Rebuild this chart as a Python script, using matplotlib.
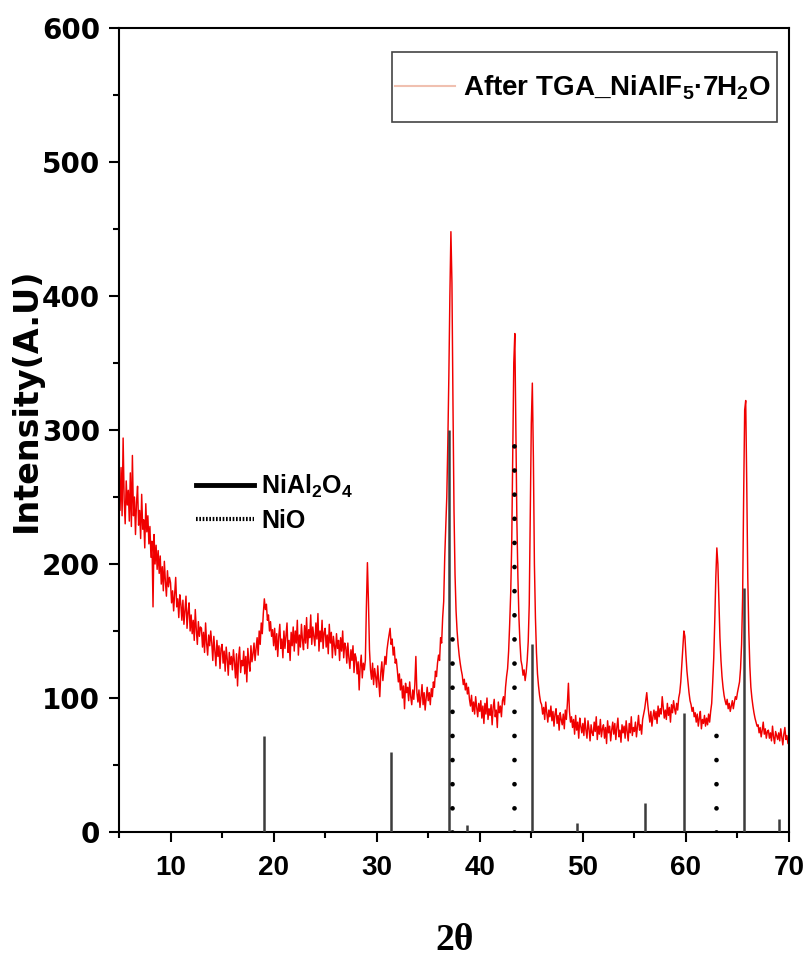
"""
XRD pattern after TGA of NiAlF5*7H2O with NiAl2O4 / NiO reference sticks.
Writes out.png (806x964).
"""
import numpy as np
import matplotlib
matplotlib.use("Agg")
import matplotlib.pyplot as plt
from matplotlib.lines import Line2D
from matplotlib.patches import Rectangle
from matplotlib.ticker import MultipleLocator

plt.rcParams["mathtext.default"] = "regular"

SANS = ["Liberation Sans", "DejaVu Sans"]
WIDE = ["DejaVu Sans"]

# ---------- data ----------
# scan grid: 5-70 deg, 0.1 deg step
two_theta = np.round(np.arange(5.0, 70.05, 0.1), 1)

# one row per degree (x.0 ... x.9)
intensity = [
    258, 240, 272, 236, 294, 248, 230, 262, 244, 255,   # 5
    232, 268, 228, 281, 236, 250, 222, 246, 258, 229,   # 6
    240, 219, 252, 226, 233, 212, 245, 224, 236, 215,   # 7
    228, 205, 217, 168, 222, 200, 214, 196, 210, 193,   # 8
    206, 185, 198, 180, 202, 187, 176, 195, 183, 190,   # 9
    186, 171, 180, 165, 178, 190, 168, 174, 160, 177,   # 10
    170, 158, 173, 155, 166, 176, 152, 164, 171, 150,   # 11
    162, 148, 158, 143, 166, 151, 140, 157, 146, 153,   # 12
    152, 138, 149, 134, 156, 141, 132, 147, 139, 150,   # 13
    141, 128, 146, 135, 124, 143, 131, 139, 122, 137,   # 14
    140, 126, 135, 120, 138, 129, 117, 134, 125, 131,   # 15
    121, 136, 127, 115, 133, 109, 130, 138, 119, 128,   # 16
    124, 135, 118, 131, 112, 137, 126, 120, 139, 127,   # 17
    133, 141, 128, 137, 145, 132, 150, 140, 156, 148,   # 18
    163, 174, 166, 170, 158, 162, 150, 157, 146, 151,   # 19
    139, 152, 136, 148, 131, 146, 155, 137, 144, 130,   # 20
    150, 137, 147, 156, 134, 143, 128, 149, 139, 153,   # 21
    135, 150, 141, 158, 132, 147, 138, 155, 143, 136,   # 22
    154, 141, 160, 137, 151, 145, 162, 140, 153, 146,   # 23
    139, 156, 144, 163, 135, 150, 142, 158, 137, 149,   # 24
    152, 138, 147, 133, 155, 141, 149, 130, 146, 139,   # 25
    132, 148, 137, 143, 128, 145, 135, 150, 130, 141,   # 26
    138, 126, 141, 130, 122, 136, 128, 139, 119, 133,   # 27
    130, 118, 127, 106, 124, 132, 115, 126, 121, 128,   # 28
    168, 201, 172, 136, 121, 114, 126, 110, 122, 116,   # 29
    108, 124, 112, 101, 119, 127, 113, 122, 131, 125,   # 30
    136, 142, 147, 152, 140, 144, 132, 138, 126, 129,   # 31
    121, 112, 118, 106, 114, 100, 109, 92, 111, 104,    # 32
    108, 98, 112, 101, 95, 106, 99, 110, 131, 104,      # 33
    97, 106, 93, 101, 110, 95, 104, 91, 100, 108,       # 34
    98, 104, 95, 107, 101, 112, 108, 120, 116, 126,     # 35
    132, 128, 145, 141, 160, 172, 205, 228, 250, 290,   # 36
    340, 400, 448, 410, 320, 240, 192, 165, 150, 140,   # 37
    132, 126, 121, 117, 110, 114, 106, 111, 103, 108,   # 38
    99, 94, 102, 90, 97, 88, 101, 93, 86, 96,           # 39
    90, 98, 85, 94, 81, 96, 88, 100, 84, 92,            # 40
    87, 95, 80, 93, 99, 86, 91, 78, 97, 89,             # 41
    94, 86, 98, 101, 95, 108, 116, 122, 135, 155,       # 42
    178, 215, 285, 350, 372, 300, 232, 190, 160, 141,   # 43
    128, 124, 117, 121, 113, 119, 128, 142, 170, 240,   # 44
    305, 335, 280, 200, 160, 134, 118, 109, 102, 97,    # 45
    95, 88, 93, 84, 97, 89, 82, 91, 86, 94,             # 46
    83, 90, 79, 88, 92, 81, 87, 76, 89, 84,             # 47
    80, 88, 77, 91, 84, 96, 111, 90, 82, 86,            # 48
    78, 84, 73, 87, 76, 82, 70, 85, 79, 74,             # 49
    81, 72, 85, 76, 70, 83, 77, 68, 80, 74,             # 50
    72, 82, 75, 86, 69, 79, 73, 84, 71, 77,             # 51
    80, 70, 78, 66, 83, 74, 79, 68, 76, 82,             # 52
    73, 81, 69, 78, 85, 71, 76, 67, 80, 74,             # 53
    79, 70, 83, 75, 68, 81, 74, 86, 72, 78,             # 54
    75, 82, 71, 79, 87, 76, 80, 73, 84, 88,             # 55
    92, 98, 104, 95, 88, 82, 90, 79, 86, 91,            # 56
    84, 90, 81, 94, 86, 92, 88, 101, 93, 85,            # 57
    91, 84, 96, 87, 93, 82, 95, 89, 98, 92,             # 58
    88, 96, 91, 100, 104, 112, 125, 138, 150, 146,      # 59
    132, 120, 112, 104, 98, 95, 90, 93, 86, 89,         # 60
    82, 88, 79, 85, 90, 77, 84, 81, 87, 79,             # 61
    85, 80, 88, 82, 90, 96, 112, 130, 158, 190,         # 62
    212, 200, 172, 145, 128, 116, 108, 102, 98, 95,     # 63
    99, 92, 96, 90, 94, 98, 92, 97, 101, 99,            # 64
    104, 108, 112, 122, 140, 175, 250, 315, 322, 260,   # 65
    190, 150, 124, 108, 100, 94, 89, 85, 82, 79,        # 66
    80, 74, 78, 71, 76, 82, 73, 77, 70, 75,             # 67
    76, 70, 74, 68, 79, 71, 66, 75, 72, 69,             # 68
    74, 68, 77, 71, 65, 73, 78, 69, 72, 66,             # 69
    70,                                                 # 70
]
assert len(intensity) == len(two_theta)

# reference sticks
nial2o4_pos = [19.05, 31.35, 37.05, 38.8, 45.05, 49.4, 56.0, 59.8, 65.65, 69.05]
nial2o4_int = [72, 60, 300, 5, 140, 7, 22, 89, 182, 10]
nio_pos = [37.3, 43.35, 62.95]
nio_int = [160, 300, 85]

SAMPLE_LABEL = "After TGA_NiAlF$_5$·7H$_2$O"

# ---------- figure ----------
W, H = 806, 964
fig = plt.figure(figsize=(W / 100, H / 100), dpi=100)
ax = fig.add_axes([119 / W, 1 - 832 / H, 670 / W, 804 / H])

ax.plot(two_theta, intensity, color="#f00000", lw=1.05, zorder=2)
ax.vlines(nial2o4_pos, 0, nial2o4_int, colors="#3c3c3c", lw=1.8, zorder=3)
for p, h in zip(nio_pos, nio_int):
    ax.plot([p, p], [0, h], color="black", lw=3.4, ls=(0, (0.01, 5.1)),
            dash_capstyle="round", zorder=4)

ax.set_xlim(5, 70)
ax.set_ylim(0, 600)
ax.xaxis.set_major_locator(MultipleLocator(10))
ax.xaxis.set_minor_locator(MultipleLocator(5))
ax.yaxis.set_major_locator(MultipleLocator(100))
ax.yaxis.set_minor_locator(MultipleLocator(50))
ax.tick_params(which="both", direction="out", top=False, right=False, width=1.5)
ax.tick_params(which="major", length=7.5)
ax.tick_params(which="minor", length=4.5)
ax.tick_params(axis="x", pad=9)
ax.tick_params(axis="y", pad=6)
for s in ax.spines.values():
    s.set_linewidth(1.5)

for lab in ax.get_xticklabels():
    lab.set_fontfamily(SANS)
    lab.set_fontweight("bold")
    lab.set_fontsize(20)
for lab in ax.get_yticklabels():
    lab.set_fontfamily(WIDE)
    lab.set_fontweight("bold")
    lab.set_fontsize(20)

# axis titles
fig.text(26 / W, 1 - 400 / H, "Intensity(A.U)", rotation=90, ha="center", va="center",
         family=WIDE, weight="bold", size=24)
fig.text(455 / W, 1 - 940 / H, "2θ", ha="center", va="center",
         family=["Liberation Serif", "DejaVu Serif"], weight="bold", size=27)

# sample legend: boxed, top right (drawn by hand to get the tall box)
fig.patches.append(Rectangle((392 / W, 1 - 122 / H), 385 / W, 70 / H,
                             transform=fig.transFigure, facecolor="white",
                             edgecolor="#444444", lw=1.2, zorder=5))
fig.lines.append(Line2D([395 / W, 455 / W], [1 - 86 / H, 1 - 86 / H],
                        transform=fig.transFigure, color="#f0c0b0", lw=1.5, zorder=6))
fig.text(463 / W, 1 - 88 / H, SAMPLE_LABEL, ha="left", va="center",
         family=SANS, weight="bold", size=20, zorder=6)

# reference legend (no frame, left)
h_ref1 = Line2D([], [], color="black", lw=3.5)
h_ref2 = Line2D([], [], color="black", lw=3, ls=(0, (0.4, 0.4)))
fig.legend([h_ref1, h_ref2], ["NiAl$_2$O$_4$", "NiO"], loc="center left",
           bbox_to_anchor=(186 / W, 1 - 503 / H), frameon=False,
           prop=dict(family=SANS, weight="bold", size=18),
           handlelength=2.3, handletextpad=0.3, labelspacing=0.35, borderaxespad=0)

fig.savefig("out.png", dpi=100)
